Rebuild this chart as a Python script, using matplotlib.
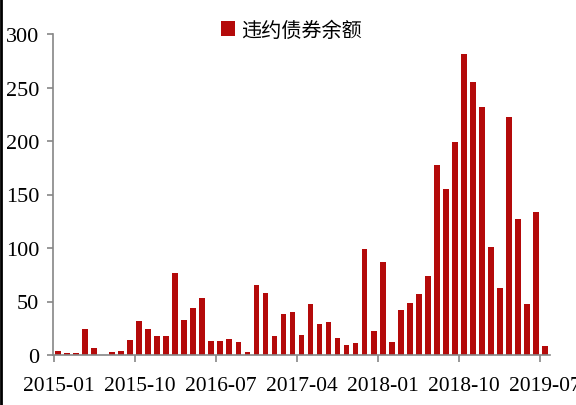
import matplotlib
matplotlib.use("Agg")
import matplotlib.pyplot as plt
from matplotlib.lines import Line2D
import pandas as pd

# 月度违约债券余额（亿元），2015-01 至 2019-07
months = [str(p) for p in pd.period_range("2015-01", "2019-07", freq="M")]
values = [4, 2, 2, 24, 7, 0, 3, 4, 14, 32, 24, 18,
          18, 77, 33, 44, 53, 13, 13, 15, 12, 3, 65, 58,
          18, 38, 40, 19, 48, 29, 31, 16, 9, 11, 99, 22,
          87, 12, 42, 49, 57, 74, 178, 155, 199, 281, 255, 232,
          101, 63, 222, 127, 48, 134, 8]
series_name = "违约债券余额"
y_ticks = [0, 50, 100, 150, 200, 250, 300]

bar_color = "#B40A0A"
axis_color = "#868686"
serif = ["Liberation Serif", "DejaVu Serif"]

fig = plt.figure(figsize=(5.76, 4.06), dpi=100)
ax = fig.add_axes([53 / 576, 50 / 406, 497 / 576, 321 / 406])

x = list(range(len(months)))
ax.bar(x, values, width=0.66, color=bar_color, label=series_name)

ax.set_xlim(-0.6, len(months) - 0.4)
ax.set_ylim(0, 300)

# 标签在柱中心，刻度线在类别边界
label_idx = list(range(0, len(months), 9))
ax.set_xticks(label_idx)
ax.set_xticklabels([months[i] for i in label_idx])
ax.set_xticks([i - 0.5 for i in label_idx], minor=True)
ax.tick_params(axis="x", which="major", length=0, pad=15)
ax.tick_params(axis="x", which="minor", length=5, width=1.2, color=axis_color, direction="out")

ax.set_yticks(y_ticks)
ax.tick_params(axis="y", length=4, width=1.2, color=axis_color, pad=6)

for lab in ax.get_xticklabels() + ax.get_yticklabels():
    lab.set_fontfamily(serif)
    lab.set_fontsize(15.5)
    lab.set_color("black")
for lab in ax.get_yticklabels():
    lab.set_fontsize(16)

for side in ["top", "right"]:
    ax.spines[side].set_visible(False)
for side in ["left", "bottom"]:
    ax.spines[side].set_color(axis_color)
    ax.spines[side].set_linewidth(1.2)

leg = ax.legend(loc="center", bbox_to_anchor=(291 / 576, 1 - 31 / 406),
                bbox_transform=fig.transFigure, frameon=False,
                handlelength=0.7, handleheight=0.7, handletextpad=0.3,
                prop={"family": ["Noto Sans CJK SC", "DejaVu Sans"], "size": 14.5})

# 左侧黑色边框线
fig.add_artist(Line2D([0.002, 0.002], [0, 1], transform=fig.transFigure, color="black", linewidth=2))

fig.savefig("out.png", dpi=100)
